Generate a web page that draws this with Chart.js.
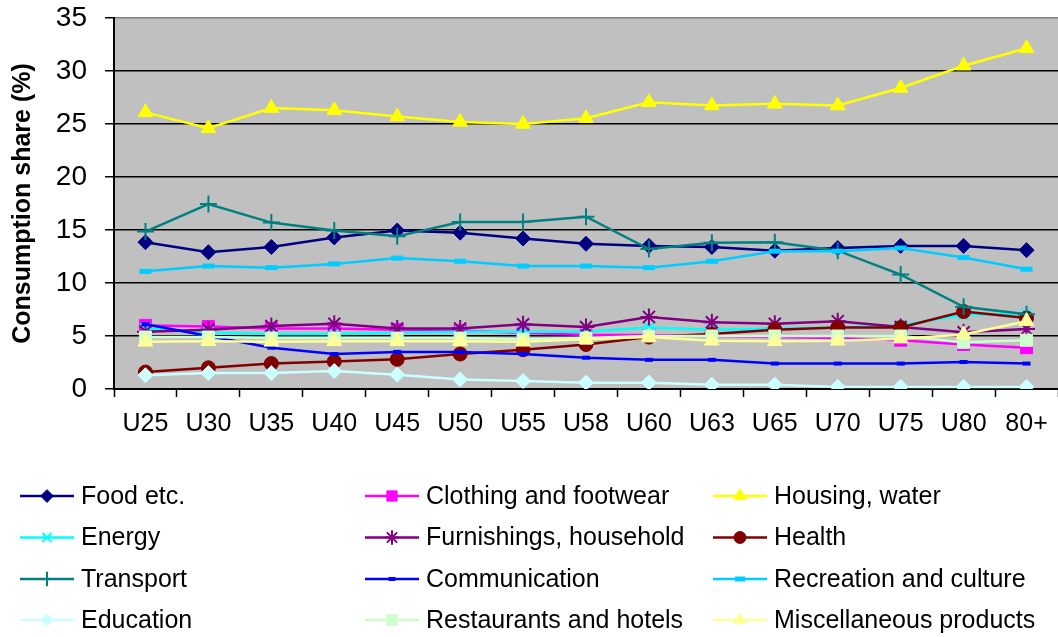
<!DOCTYPE html>
<html>
<head>
<meta charset="utf-8">
<script src="https://cdn.jsdelivr.net/npm/chart.js@4/dist/chart.umd.min.js"></script>
<style>
  body { margin: 0; background: #fff; }
  canvas { display: block; }
</style>
</head>
<body>
<canvas id="chart" width="1058" height="637"></canvas>
<script>
const ageGroups = ["U25", "U30", "U35", "U40", "U45", "U50", "U55", "U58", "U60", "U63", "U65", "U70", "U75", "U80", "80+"];

const food = [13.85, 12.9, 13.4, 14.3, 14.95, 14.75, 14.2, 13.7, 13.5, 13.4, 13.05, 13.3, 13.5, 13.5, 13.1];
const clothing = [6.0, 5.9, 5.7, 5.7, 5.6, 5.5, 5.3, 5.1, 5.1, 5.0, 4.9, 4.8, 4.6, 4.2, 3.9];
const housing = [26.1, 24.6, 26.5, 26.3, 25.7, 25.2, 25.0, 25.55, 27.05, 26.75, 26.9, 26.75, 28.4, 30.5, 32.15];
const energy = [5.7, 5.3, 5.2, 5.2, 5.3, 5.4, 5.4, 5.4, 5.8, 5.6, 5.7, 5.8, 6.0, 7.0, 7.1];
const furnishings = [5.4, 5.6, 5.95, 6.15, 5.7, 5.7, 6.1, 5.85, 6.8, 6.3, 6.15, 6.4, 5.85, 5.35, 5.65];
const health = [1.6, 2.0, 2.4, 2.6, 2.8, 3.3, 3.7, 4.2, 4.9, 5.2, 5.6, 5.8, 5.8, 7.3, 6.7];
const transport = [14.85, 17.45, 15.7, 14.95, 14.4, 15.75, 15.75, 16.25, 13.2, 13.8, 13.85, 13.05, 10.8, 7.75, 7.05];
const communication = [6.1, 5.0, 3.9, 3.3, 3.5, 3.5, 3.3, 2.95, 2.75, 2.75, 2.4, 2.4, 2.4, 2.55, 2.4];
const recreation = [11.1, 11.6, 11.45, 11.8, 12.35, 12.05, 11.6, 11.6, 11.45, 12.05, 13.0, 13.0, 13.3, 12.4, 11.3];
const education = [1.3, 1.5, 1.5, 1.7, 1.35, 0.9, 0.75, 0.6, 0.6, 0.4, 0.4, 0.2, 0.2, 0.2, 0.2];
const restaurants = [4.9, 4.9, 4.8, 4.8, 4.8, 4.8, 4.7, 4.8, 5.0, 5.0, 5.0, 5.0, 5.0, 4.4, 4.6];
const misc = [4.45, 4.5, 4.45, 4.5, 4.5, 4.5, 4.45, 4.7, 4.9, 4.55, 4.5, 4.55, 4.75, 5.15, 6.4];

const FONT = "'Liberation Sans', Arial, sans-serif";

// one line series; later series sit on top (lower order is drawn last)
let idx = 0;
function series(label, data, color, style, radius, pointBorder) {
  const i = idx++;
  return {
    label: label,
    data: data,
    borderColor: color,
    backgroundColor: color,
    borderWidth: 2.5,
    tension: 0,
    pointStyle: style,
    pointRadius: radius,
    pointHoverRadius: radius,
    pointBackgroundColor: color,
    pointBorderColor: color,
    pointBorderWidth: pointBorder || 1,
    order: 20 - i,
  };
}

const datasets = [
  series("Food etc.", food, "#000080", "rectRot", 7.5),
  series("Clothing and footwear", clothing, "#FF00FF", "rect", 8.5),
  series("Housing, water", housing, "#FFFF00", "triangle", 8.5),
  series("Energy", energy, "#00FFFF", "crossRot", 7.5, 2),
  series("Furnishings, household", furnishings, "#800080", "star", 8.5, 2),
  series("Health", health, "#800000", "circle", 7),
  series("Transport", transport, "#008080", "cross", 8.5, 2),
  series("Communication", communication, "#0000FF", "line", 4, 4),
  series("Recreation and culture", recreation, "#00CCFF", "line", 6, 5),
  series("Education", education, "#CCFFFF", "rectRot", 7.5),
  series("Restaurants and hotels", restaurants, "#CCFFCC", "rect", 8.5),
  series("Miscellaneous products", misc, "#FFFF99", "triangle", 8.5),
];

// grey plot area
const plotBackground = {
  id: "plotBackground",
  beforeDraw(chart) {
    const { ctx, chartArea: a } = chart;
    ctx.save();
    ctx.fillStyle = "#C0C0C0";
    ctx.fillRect(a.left, a.top, a.right - a.left, a.bottom - a.top);
    ctx.restore();
  },
};

// legend as a 3 x 4 grid under the axis
const gridLegend = {
  id: "gridLegend",
  afterDraw(chart) {
    const ctx = chart.ctx;
    const colX = [20, 365, 713];
    const rowY = [496, 537.5, 579, 620];
    ctx.save();
    chart.data.datasets.forEach((ds, i) => {
      const x = colX[i % 3];
      const y = rowY[Math.floor(i / 3)];
      ctx.strokeStyle = ds.borderColor;
      ctx.lineWidth = 2.5;
      ctx.beginPath();
      ctx.moveTo(x, y);
      ctx.lineTo(x + 54, y);
      ctx.stroke();

      ctx.fillStyle = ds.pointBackgroundColor;
      ctx.strokeStyle = ds.pointBorderColor;
      ctx.lineWidth = ds.pointBorderWidth;
      Chart.helpers.drawPoint(ctx, {
        pointStyle: ds.pointStyle,
        radius: ds.pointRadius * 0.85,
        rotation: 0,
        borderWidth: ds.pointBorderWidth,
      }, x + 27, y);

      ctx.fillStyle = "#000";
      ctx.font = "25px " + FONT;
      ctx.textBaseline = "middle";
      ctx.textAlign = "left";
      ctx.fillText(ds.label, x + 61, y + 1);
    });
    ctx.restore();
  },
};

const ctx = document.getElementById("chart").getContext("2d");
const chart = new Chart(ctx, {
  type: "line",
  data: {
    labels: ageGroups,
    datasets: datasets,
  },
  plugins: [plotBackground, gridLegend],
  options: {
    responsive: false,
    animation: false,
    layout: { autoPadding: false, padding: { top: 18, left: 0, right: 0, bottom: 0 } },
    plugins: {
      legend: { display: false },
      tooltip: { enabled: false },
    },
    scales: {
      x: {
        offset: true,
        afterFit: (scale) => {
          scale.height = 248;
          scale.paddingLeft = 0;
          scale.paddingRight = 0;
        },
        grid: {
          offset: true,
          drawOnChartArea: false,
          tickLength: 8,
          tickColor: "#000",
          tickWidth: 1.5,
        },
        border: { color: "#000", width: 2 },
        ticks: {
          color: "#000",
          font: { family: FONT, size: 25 },
          padding: 12,
          maxRotation: 0,
          autoSkip: false,
        },
      },
      y: {
        min: 0,
        max: 35,
        afterFit: (scale) => {
          scale.width = 114;
          scale.paddingTop = 0;
          scale.paddingBottom = 0;
        },
        grid: {
          color: (c) => (c.tick && c.tick.value === 35 ? "#808080" : "#000"),
          lineWidth: 1.5,
          tickLength: 9,
          tickColor: "#000",
        },
        border: { color: "#000", width: 2 },
        ticks: {
          stepSize: 5,
          color: "#000",
          font: { family: FONT, size: 28 },
          padding: 18,
        },
        title: {
          display: true,
          text: "Consumption share (%)",
          color: "#000",
          font: { family: FONT, size: 25, weight: "bold" },
          padding: { top: 8, bottom: 0 },
        },
      },
    },
  },
});
</script>
</body>
</html>
